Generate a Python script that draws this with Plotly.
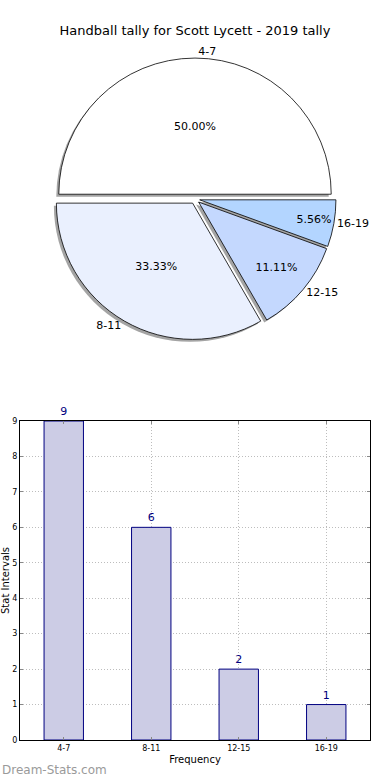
import plotly.graph_objects as go

# ---- data ----
categories = ["4-7", "8-11", "12-15", "16-19"]
counts = [9, 6, 2, 1]
pie_colors = ["#FFFFFF", "#EAF0FE", "#C4D8FE", "#B3D5FF"]
pull = [0.035, 0.035, 0.035, 0.035]
title_text = "Handball tally for Scott Lycett - 2019 tally"

W, H = 390, 780
FONT = "DejaVu Sans"

# pie geometry (pixels)
cx, cy, half = 195, 199, 141
def dom(cx, cy, half):
    return dict(x=[(cx - half) / W, (cx + half) / W],
                y=[(H - cy - half) / H, (H - cy + half) / H])

common = dict(labels=categories, values=counts, sort=False,
              direction="counterclockwise", rotation=-90, pull=pull,
              showlegend=False)

fig = go.Figure()

# shadow pie
fig.add_trace(go.Pie(
    **common, domain=dom(cx - 2.5, cy + 2.5, half),
    marker=dict(colors=["rgba(90,90,90,0.55)"] * 4, line=dict(width=0)),
    textinfo="none", hoverinfo="skip",
))
# main pie with percentages
fig.add_trace(go.Pie(
    **common, domain=dom(cx, cy, half),
    marker=dict(colors=pie_colors, line=dict(color="black", width=0.8)),
    texttemplate="%{percent:.2%}", textposition="inside",
    insidetextorientation="horizontal",
    textfont=dict(family=FONT, size=11, color="black"),
))
# transparent pie carrying outside labels
fig.add_trace(go.Pie(
    **common, domain=dom(cx, cy, half),
    marker=dict(colors=["rgba(0,0,0,0)"] * 4, line=dict(width=0)),
    texttemplate="%{label}", textposition="outside",
    textfont=dict(family=FONT, size=11, color="black"),
    hoverinfo="skip",
))

# bar chart
fig.add_trace(go.Bar(
    x=categories, y=counts, xaxis="x", yaxis="y", width=0.45,
    marker=dict(color="#CCCCE5", line=dict(color="#000080", width=1)),
    text=counts, textposition="outside", cliponaxis=False,
    textfont=dict(family=FONT, size=11, color="#000080"),
    showlegend=False,
))

grid = dict(showgrid=True, gridcolor="#BDBDBD", griddash="1px,2px", gridwidth=1)
fig.update_layout(
    width=W, height=H,
    margin=dict(l=0, r=0, t=0, b=0, autoexpand=False),
    paper_bgcolor="white", plot_bgcolor="white",
    font=dict(family=FONT, color="black"),
    title=dict(text=title_text, x=0.5, xanchor="center", y=1 - 30 / H, yanchor="middle",
               font=dict(family=FONT, size=13, color="black")),
    xaxis=dict(domain=[20 / W, 370 / W], anchor="y", range=[-0.5, 3.5], automargin=False,
               showline=True, linecolor="black", linewidth=1, mirror="allticks",
               ticks="inside", ticklen=3, tickcolor="#888888", **grid,
               tickfont=dict(size=8), zeroline=False,
               title=dict(text="Frequency", font=dict(size=10), standoff=4)),
    yaxis=dict(domain=[40 / H, (H - 421) / H], anchor="x", range=[0, 9], automargin=False,
               dtick=1, showline=True, linecolor="black", linewidth=1, mirror="allticks",
               ticks="inside", ticklen=3, tickcolor="#888888", **grid,
               tickfont=dict(size=8), zeroline=False,
               title=dict(text="Stat Intervals", font=dict(size=10), standoff=2)),
    annotations=[dict(text="Dream-Stats.com", x=0, y=(H - 770) / H, xref="paper", yref="paper",
                      xanchor="left", yanchor="middle", showarrow=False,
                      font=dict(family=FONT, size=12, color="#9A9A9A"))],
)

fig.write_html("out.html", config={"displayModeBar": False},
               post_script="document.body.style.margin='0';")
